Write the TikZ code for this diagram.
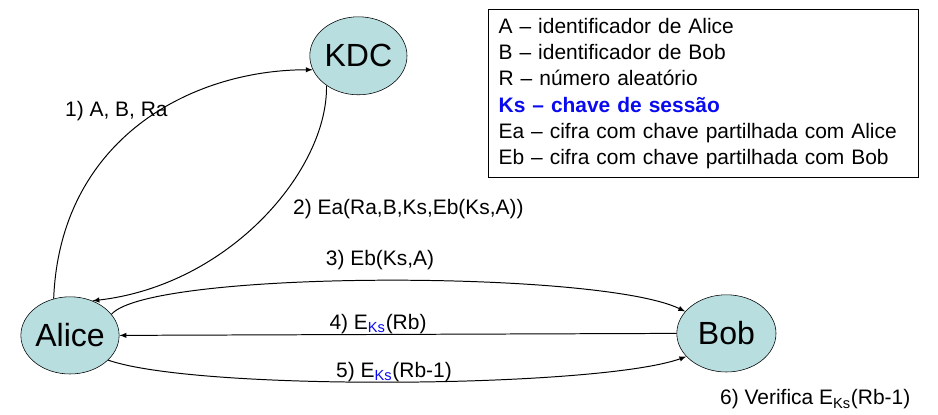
\documentclass[tikz,border=0pt]{standalone}
\usepackage{fontspec}
\setmainfont{Liberation Sans}
\usepackage{tikz}
\usetikzlibrary{shapes.geometric, arrows}
\definecolor{azulclaro}{HTML}{B8DEE0}
\definecolor{azulchave}{HTML}{0A0AF0}
\newcommand{\subKs}{\textsubscript{\textcolor{azulchave}{Ks}}}

\begin{document}
\begin{tikzpicture}[
  participante/.style={ellipse, draw, fill=azulclaro, inner sep=0pt,
    minimum width=2.45cm, minimum height=1.93cm, font=\fontsize{22.8}{27}\selectfont},
  rotulo/.style={anchor=base, font=\fontsize{14.9}{18}\selectfont},
  seta/.style={-latex, line width=0.7pt}]
\useasboundingbox (0,0) rectangle (23.45,10.375);
% participantes
\node[participante, minimum width=2.43cm, minimum height=1.95cm] (kdc) at (8.96,8.98) {KDC};
\node[participante] (alice) at (1.75,1.99) {Alice};
\node[participante, minimum width=2.48cm] (bob) at (18.16,2.04) {Bob};
% legenda
\node[draw, line width=0.9pt, anchor=north west, align=left, text width=10.25cm,
  inner xsep=0.25cm, inner ysep=0.22cm, font=\fontsize{14.9}{18.6}\selectfont] (legenda) at (12.2,10.15)
  {A – identificador de Alice\\
   B – identificador de Bob\\
   R – número aleatório\\
   \textcolor{azulchave}{\bfseries Ks – chave de sessão}\\
   Ea – cifra com chave partilhada com Alice\\
   Eb – cifra com chave partilhada com Bob};
% mensagens
\draw[seta] (alice.114) .. controls (1.5,6.88) and (4.75,8.63) .. (kdc.197);
\draw[seta] (kdc.223) .. controls (8.2,6.13) and (5.75,3.25) .. (alice.57);
\draw[seta] (alice.27) .. controls (3.75,3.63) and (15,3.63) .. (bob.152);
\draw[seta] (bob.west) -- (alice.east);
\draw[seta] (alice.-33) .. controls (5,0.58) and (15,0.68) .. (bob.210);
\node[rotulo] (m1) at (2.91,7.45) {1) A, B, Ra};
\node[rotulo] (m2) at (10.21,5.0) {2) Ea(Ra,B,Ks,Eb(Ks,A))};
\node[rotulo] (m3) at (9.5,3.73) {3) Eb(Ks,A)};
\node[rotulo] (m4) at (9.45,2.13) {4) E\subKs(Rb)};
\node[rotulo] (m5) at (9.85,0.93) {5) E\subKs(Rb-1)};
\node[rotulo] (m6) at (20.38,0.25) {6) Verifica E\textsubscript{Ks}(Rb-1)};
\end{tikzpicture}
\end{document}
